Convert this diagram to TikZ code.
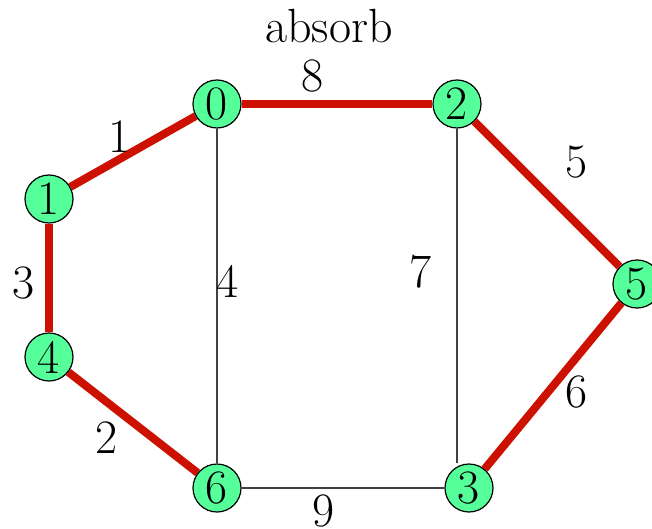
\documentclass[tikz,border=0pt]{standalone}
\usepackage{fontspec}
\definecolor{MstGreen}{HTML}{55FF99}
\definecolor{MstRed}{HTML}{CC1100}
\definecolor{MstGray}{HTML}{404040}
\tikzset{
  vertex/.style={
    circle,
    draw=black,
    line width=0.6pt,
    fill=MstGreen,
    minimum size=24pt,
    inner sep=0pt,
    font=\fontsize{24}{28}\selectfont
  },
  weight/.style={
    anchor=base,
    inner sep=0pt,
    font=\fontsize{24}{28}\selectfont
  },
  treeedge/.style={draw=MstRed,line width=4pt},
  plainedge/.style={draw=MstGray,line width=0.75pt}
}

\begin{document}
\begin{tikzpicture}[x=0.5pt,y=-0.5pt]
    \useasboundingbox (0,0) rectangle (652,529);
    \node[weight] (title) at (329,43) {absorb};
    % vertices
    \node[vertex] (v0) at (217,104) {0};
    \node[vertex] (v2) at (457,104) {2};
    \node[vertex] (v1) at (49,199) {1};
    \node[vertex] (v4) at (49,357) {4};
    \node[vertex] (v6) at (217,488) {6};
    \node[vertex] (v3) at (469,488) {3};
    \node[vertex] (v5) at (637,284) {5};
    % edges
    \draw[treeedge] (v0) -- (v2);
    \draw[treeedge] (v0) -- (v1);
    \draw[treeedge] (v1) -- (v4);
    \draw[treeedge] (v4) -- (v6);
    \draw[treeedge] (v2) -- (v5);
    \draw[treeedge] (v5) -- (v3);
    \draw[plainedge] (v0) -- (v6);
    \draw[plainedge] (v2) -- (v2 |- v3.north);
    \draw[plainedge] (v6) -- (v3);
    % weights
    \node[weight] (w02) at (313,92) {8};
    \node[weight] (w01) at (120,153) {1};
    \node[weight] (w14) at (24,298) {3};
    \node[weight] (w46) at (107,453) {2};
    \node[weight] (w06) at (228,297) {4};
    \node[weight] (w23) at (421,287) {7};
    \node[weight] (w25) at (577,177) {5};
    \node[weight] (w53) at (577,407) {6};
    \node[weight] (w63) at (324,526) {9};
  \end{tikzpicture}
\end{document}
